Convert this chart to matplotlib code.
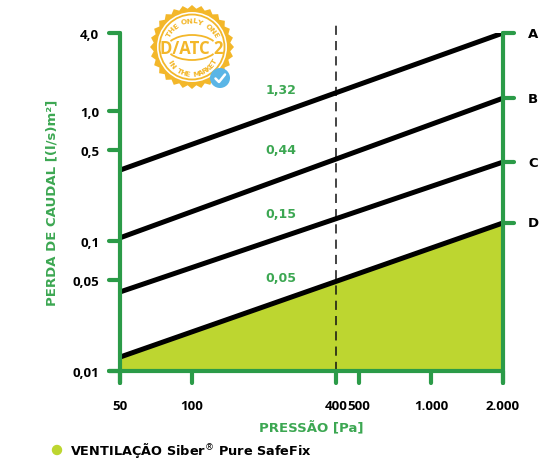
import numpy as np
import matplotlib
matplotlib.use('Agg')
import matplotlib.pyplot as plt
from matplotlib.patches import Polygon, Circle, Arc
import matplotlib.transforms as mtransforms

plt.rcParams['font.family'] = ['Open Sans', 'DejaVu Sans']
WIDE = ['DejaVu Sans']

# data
pressure = [50, 2000]
line_a = [0.352, 4.0]
line_b = [0.106, 1.26]
line_c = [0.0406, 0.406]
line_d = [0.0128, 0.138]
line_names = ['A', 'B', 'C', 'D']
values_at_400 = ['1,32', '0,44', '0,15', '0,05']
label_ys = [1.48, 0.51, 0.162, 0.052]

x_ticks = [50, 100, 400, 500, 1000, 2000]
x_tick_labels = ['50', '100', '400', '500', '1.000', '2.000']
y_ticks = [0.01, 0.05, 0.1, 0.5, 1.0, 4.0]
y_tick_labels = ['0,01', '0,05', '0,1', '0,5', '1,0', '4,0']

GREEN = '#2b9b48'
LABEL_GREEN = '#3ca752'
FILL = '#bdd630'
BADGE = '#f3b72a'

fig = plt.figure(figsize=(5.6, 4.6), dpi=100)
ax = fig.add_axes([120 / 560, 1 - 372 / 460, 383 / 560, 338 / 460])
ax.set_xscale('log')
ax.set_yscale('log')
ax.set_xlim(pressure[0], pressure[-1])
ax.set_ylim(0.01, 4.0)

# filled area under D and the four lines
ax.fill_between(pressure, 0.01, line_d, color=FILL, lw=0, zorder=1)
for ys in [line_a, line_b, line_c, line_d]:
    ax.plot(pressure, ys, color='black', lw=3.6, solid_capstyle='butt', zorder=3)

# dashed line at 400 Pa
trans_x = mtransforms.blended_transform_factory(ax.transData, ax.transAxes)
ax.plot([400, 400], [0, 1.035], transform=trans_x, color='#111111', lw=1.1,
        dashes=(6, 4), clip_on=False, zorder=2)

# value labels
for txt, yv in zip(values_at_400, label_ys):
    ax.text(236, yv, txt, color=LABEL_GREEN, fontsize=9, fontweight='bold',
            family=WIDE, ha='center', va='center')

# axis lines and ticks drawn by hand (round caps)
for s in ax.spines.values():
    s.set_visible(False)
ax.minorticks_off()
ax.set_xticks(x_ticks)
ax.set_xticklabels(x_tick_labels)
ax.set_yticks(y_ticks)
ax.set_yticklabels(y_tick_labels)
ax.tick_params(axis='both', length=0, labelsize=9.5)
ax.tick_params(axis='x', pad=20)
ax.tick_params(axis='y', pad=15)
for lab in ax.get_xticklabels() + ax.get_yticklabels():
    lab.set_fontweight('bold')

trans_y = mtransforms.blended_transform_factory(ax.transAxes, ax.transData)
kw = dict(color=GREEN, lw=3, solid_capstyle='round', clip_on=False, zorder=4)
# left, right, bottom
ax.plot([pressure[0]] * 2, [-0.035, 1.0], transform=trans_x, **kw)
ax.plot([pressure[-1]] * 2, [-0.035, 1.0], transform=trans_x, **kw)
ax.plot([-0.03, 1.0], [0.01, 0.01], transform=trans_y, **kw)
for yt in y_ticks:
    ax.plot([-0.03, 0], [yt, yt], transform=trans_y, **kw)
for xt in x_ticks:
    ax.plot([xt, xt], [-0.035, 0], transform=trans_x, **kw)
for name, ys in zip(line_names, [line_a, line_b, line_c, line_d]):
    ax.plot([1.0, 1.03], [ys[-1], ys[-1]], transform=trans_y, **kw)
    ax.text(1.065, ys[-1], name, transform=trans_y, fontsize=9.5,
            fontweight='bold', family=WIDE, ha='left', va='center')

ax.set_ylabel('PERDA DE CAUDAL [(l/s)m²]', color=LABEL_GREEN, fontsize=9.5,
              fontweight='bold', family=WIDE, labelpad=10)
ax.set_xlabel('PRESSÃO [Pa]', color=LABEL_GREEN, fontsize=9.5,
              fontweight='bold', family=WIDE, labelpad=6)

# legend
fig.text(70 / 560, 1 - 451 / 460, 'VENTILAÇÃO Siber$^{®}$ Pure SafeFix',
         fontsize=9.3, fontweight='bold', family=WIDE, ha='left', va='center')
lax = fig.add_axes([0, 0, 1, 1], facecolor='none')
lax.set_xlim(0, 560)
lax.set_ylim(460, 0)
lax.axis('off')
lax.add_patch(Circle((57, 451), 4.5, color=FILL))

# badge
cx, cy = 192, 48
n = 56
ang = np.linspace(0, 2 * np.pi, n, endpoint=False)
rad = np.where(np.arange(n) % 2 == 0, 42, 38.5)
lax.add_patch(Polygon(np.c_[cx + rad * np.cos(ang), cy + rad * np.sin(ang)],
                      closed=True, color=BADGE, lw=0))
lax.add_patch(Circle((cx, cy), 35, color='white', lw=0))
lax.add_patch(Circle((cx, cy), 32.5, fill=False, ec=BADGE, lw=1.3))
lax.add_patch(Arc((cx, cy + 2), 52, 28, theta1=200, theta2=340, ec=BADGE, lw=1.3))
lax.add_patch(Arc((cx, cy - 1), 52, 28, theta1=20, theta2=160, ec=BADGE, lw=1.3))
lax.text(cx, cy + 1, 'D/ATC 2', color=BADGE, fontsize=12, fontweight='bold',
         ha='center', va='center')

top_txt = 'THE ONLY ONE'
for i, ch in enumerate(top_txt):
    th = np.deg2rad(150 - i * 120 / (len(top_txt) - 1))
    lax.text(cx + 26.5 * np.cos(th), cy - 26.5 * np.sin(th), ch, color=BADGE,
             fontsize=5.3, fontweight='bold', family=WIDE, ha='center',
             va='center', rotation=np.rad2deg(th) - 90)
bot_txt = 'IN THE MARKET'
for i, ch in enumerate(bot_txt):
    th = np.deg2rad(212 + i * 116 / (len(bot_txt) - 1))
    lax.text(cx + 26.5 * np.cos(th), cy - 26.5 * np.sin(th), ch, color=BADGE,
             fontsize=5.3, fontweight='bold', family=WIDE, ha='center',
             va='center', rotation=np.rad2deg(th) + 90)

lax.add_patch(Circle((220, 79), 10, color='#5ab5e6', lw=0))
lax.plot([215.5, 219, 225], [79.5, 83, 75.5], color='white', lw=1.8,
         solid_capstyle='round', solid_joinstyle='round')

fig.savefig('out.png', dpi=100)
